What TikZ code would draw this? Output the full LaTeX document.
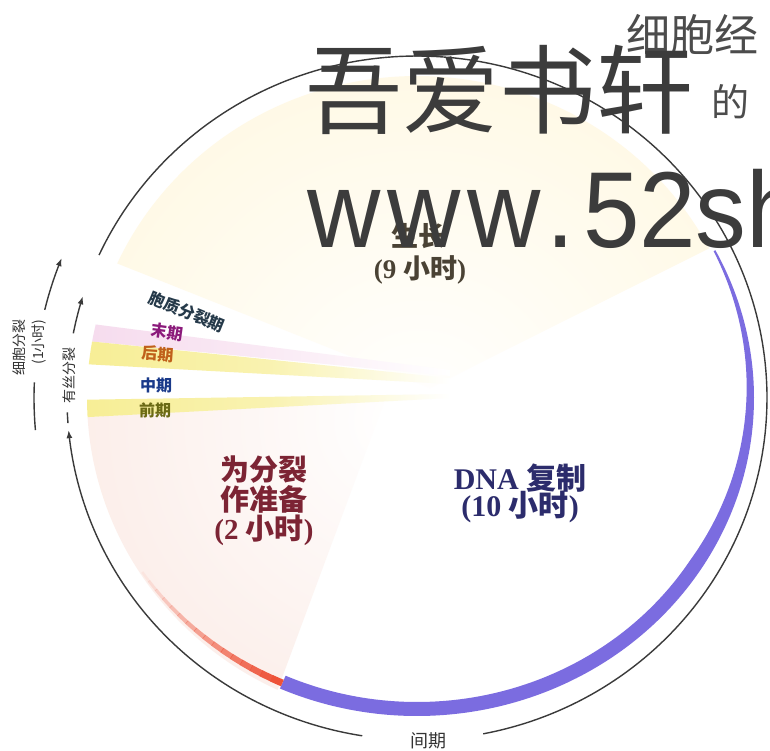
\documentclass[tikz,border=0pt]{standalone}
\usepackage{fontspec}
\setmainfont{Liberation Serif}
\newfontfamily\cjk{Noto Sans CJK SC}
\newfontfamily\wmsans[FakeStretch=0.94]{Liberation Sans}
\usetikzlibrary{arrows.meta,calc}
\definecolor{ringcol}{HTML}{3A3A3A}
\definecolor{scol}{HTML}{7B6CE0}
\definecolor{gtwo}{HTML}{EE5238}
\definecolor{gonefill}{HTML}{FFF3CC}
\definecolor{gtwofill}{HTML}{F8DDD4}
\definecolor{bandyel}{HTML}{F7EE96}
\definecolor{bandpink}{HTML}{F6DCEE}
\definecolor{wmcol}{HTML}{3C3C3C}
\definecolor{gonetxt}{HTML}{4A4234}
\definecolor{stxt}{HTML}{2C2C6C}
\definecolor{gtwotxt}{HTML}{7C2434}
\definecolor{cytotxt}{HTML}{263A4A}
\definecolor{telotxt}{HTML}{8B1A7B}
\definecolor{anatxt}{HTML}{C0601A}
\definecolor{metatxt}{HTML}{1A3A8A}
\definecolor{protxt}{HTML}{6B6A15}
\definecolor{sidetxt}{HTML}{333333}
\newcommand{\zh}[1]{{\cjk #1}}
\tikzset{
  ring/.style={draw=ringcol, line width=1.4pt},
  ringarrow/.style={ring, -{Latex[length=8pt,width=6pt]}},
  lbl/.style={inner sep=0pt, outer sep=0pt},
  phaselbl/.style={lbl, font=\cjk\bfseries\fontsize{16}{16}\selectfont},
  sidelbl/.style={lbl, rotate=90, text=sidetxt, font=\cjk\fontsize{14}{14}\selectfont},
  bigG/.style={lbl, text=gonetxt, font=\bfseries\fontsize{27}{27}\selectfont},
  bigS/.style={lbl, text=stxt, font=\bfseries\fontsize{30}{30}\selectfont},
  bigT/.style={lbl, text=gtwotxt, font=\bfseries\fontsize{29}{29}\selectfont},
  wmark/.style={lbl, text=wmcol}
}
\begin{document}
\begin{tikzpicture}[x=1pt,y=-1pt]
\useasboundingbox (0,0) rectangle (770,750);
\clip (0,0) rectangle (770,750);
\fill[white] (0,0) rectangle (770,750);
\coordinate (C) at (417,398);

% G1 region
\begin{scope}
\clip (430,388) -- plot[domain=204.7:332.3,samples=150] ({417+330*cos(\x)},{398+322*sin(\x)}) -- cycle;
\shade[inner color=white, outer color=gonefill] (420,420) circle (720);
\end{scope}
% G2 region
\begin{scope}
\clip (385,400) -- plot[domain=115:176.6,samples=80] ({417+330*cos(\x)},{398+322*sin(\x)}) -- cycle;
\shade[inner color=white, outer color=gtwofill] (400,420) circle (640);
\end{scope}
% mitosis bands
\shade[left color=bandpink, right color=white, middle color=bandpink!60]
  plot[domain=190.1:193.2,samples=10] ({417+330*cos(\x)},{398+322*sin(\x)}) -- (450,370) -- (450,376) -- cycle;
\shade[left color=bandyel, right color=white, middle color=bandyel!75]
  plot[domain=186.0:190.1,samples=10] ({417+330*cos(\x)},{398+322*sin(\x)}) -- (450,378) -- (450,384) -- cycle;
\shade[left color=bandyel, right color=white, middle color=bandyel!75]
  plot[domain=176.6:179.7,samples=10] ({417+330*cos(\x)},{398+322*sin(\x)}) -- (450,394) -- (450,398) -- cycle;

% S phase band
\fill[scol] plot[domain=-27.7:114,samples=150] ({417+337*cos(\x)},{398+318*sin(\x)})
  -- plot[domain=114:-27.7,samples=150] ({417+(337-min(14,2+12*(\x+27.7)/60))*cos(\x)},{398+(318-min(14,2+12*(\x+27.7)/60))*sin(\x)}) -- cycle;
% G2 red band, fading
\foreach \i in {0,...,15}{
  \pgfmathsetmacro\sa{114+2*\i}
  \pgfmathsetmacro\sb{\sa+2.1}
  \pgfmathsetmacro\op{1-\i/16}
  \pgfmathsetmacro\wd{7-0.3*\i}
  \draw[gtwo, line width=\wd pt, opacity=\op] plot[domain=\sa:\sb,samples=4] ({417+331*cos(\x)},{398+312*sin(\x)});
}

% interphase ring
\draw[ring] plot[domain=204.7:439.1,samples=200] ({417+350*cos(\x)},{398+342*sin(\x)});
\draw[ringarrow] plot[domain=99.0:174.6,samples=80] ({417+350*cos(\x)},{398+342*sin(\x)});
% mitosis arrow
\draw[ring] plot[domain=175.8:177.6,samples=4] ({417+350*cos(\x)},{398+342*sin(\x)});
\draw[ringarrow] plot[domain=190.9:197.3,samples=10] ({417+350*cos(\x)},{398+342*sin(\x)});
% cell division arrow
\draw[ring] plot[domain=175.1:182.4,samples=10] ({417+383*cos(\x)},{398+375*sin(\x)});
\draw[ringarrow] plot[domain=193.6:201.9,samples=12] ({417+383*cos(\x)},{398+375*sin(\x)});

% labels
\node[bigG] (gone) at (418,236) {\zh{生长}};
\node[bigG] (goneh) at (420,270) {(9 \zh{小时})};
\node[bigS] (sph) at (520,478) {DNA \zh{复制}};
\node[bigS] (sphh) at (520,507) {(10 \zh{小时})};
\node[bigT] (gtwoa) at (264,470) {\zh{为分裂}};
\node[bigT] (gtwob) at (264,499) {\zh{作准备}};
\node[bigT] (gtwoc) at (264,530) {(2 \zh{小时})};

\node[phaselbl, text=cytotxt, rotate=-22] (cyto) at (187,312) {胞质分裂期};
\node[phaselbl, text=telotxt, rotate=-8] (telo) at (167,332) {末期};
\node[phaselbl, text=anatxt, rotate=-4] (ana) at (158,354) {后期};
\node[phaselbl, text=metatxt] (meta) at (156,385) {中期};
\node[phaselbl, text=protxt] (pro) at (155,410) {前期};

\node[sidelbl] (celldiv) at (19,347) {细胞分裂};
\node[sidelbl] (celldivh) at (39,342) {(1小时)};
\node[sidelbl] (mito) at (69,375) {有丝分裂};
\node[lbl, text=sidetxt, font=\cjk\fontsize{18}{18}\selectfont] (inter) at (428,741) {间期};

% page text and watermark
\node[lbl, anchor=west, text=black!70, font=\cjk\fontsize{44}{44}\selectfont] (pagea) at (626,35) {细胞经};
\node[lbl, anchor=west, text=black!70, font=\cjk\fontsize{38}{38}\selectfont] (pageb) at (711,102) {的};
\node[wmark, anchor=west, font=\cjk\fontsize{97}{97}\selectfont] (wma) at (305,90) {吾爱书轩};
\node[wmark, anchor=base west, font=\wmsans\fontsize{108}{108}\selectfont] (wmb) at (307,247) {w\kern7pt w\kern7pt w\kern6pt.\kern8pt 52sh};
\end{tikzpicture}
\end{document}
